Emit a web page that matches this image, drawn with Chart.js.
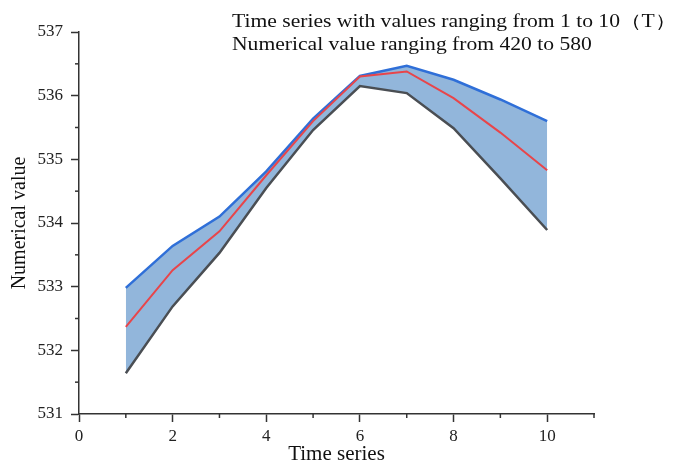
<!DOCTYPE html>
<html>
<head>
<meta charset="utf-8">
<script src="https://cdn.jsdelivr.net/npm/chart.js@4"></script>
<style>
  html, body { margin: 0; padding: 0; background: #fff; }
  #wrap { width: 680px; height: 467px; }
</style>
</head>
<body>
<div id="wrap"><canvas id="grafico" width="680" height="467"></canvas></div>
<script>
// datos
const tiempos = [1, 2, 3, 4, 5, 6, 7, 8, 9, 10];
const superior = [532.98, 533.64, 534.10, 534.81, 535.64, 536.31, 536.47, 536.25, 535.94, 535.60];
const media = [532.37, 533.26, 533.87, 534.75, 535.60, 536.30, 536.38, 535.96, 535.42, 534.83];
const inferior = [531.64, 532.69, 533.53, 534.55, 535.46, 536.15, 536.04, 535.49, 534.70, 533.89];
const titulo = ['Time series with values ranging from 1 to 10（T）', 'Numerical value ranging from 420 to 580'];
const ticksX = [0, 2, 4, 6, 8, 10];
const ticksY = [531, 532, 533, 534, 535, 536, 537];

const fuente = '"Liberation Serif", "Times New Roman", serif';
const colorEje = '#333333';

function puntos(valores) {
    return tiempos.map((t, i) => ({ x: t, y: valores[i] }));
}

// marcas menores y texto del titulo
const extras = {
    id: 'extras',
    afterDraw(chart) {
        const ctx = chart.ctx;
        const sx = chart.scales.x;
        const sy = chart.scales.y;
        const area = chart.chartArea;
        ctx.save();
        ctx.strokeStyle = colorEje;
        ctx.lineWidth = 1.5;
        for (let v = 1; v <= 11; v += 2) {
            const px = sx.getPixelForValue(v);
            ctx.beginPath();
            ctx.moveTo(px, area.bottom);
            ctx.lineTo(px, area.bottom + 4);
            ctx.stroke();
        }
        for (let v = 531.5; v < 537; v += 1) {
            const py = sy.getPixelForValue(v);
            ctx.beginPath();
            ctx.moveTo(area.left, py);
            ctx.lineTo(area.left - 4, py);
            ctx.stroke();
        }
        // el texto original esta algo estirado a lo ancho
        ctx.fillStyle = '#111';
        ctx.font = '18px ' + fuente;
        ctx.textAlign = 'left';
        ctx.textBaseline = 'alphabetic';
        ctx.translate(232, 0);
        ctx.scale(1.2, 1);
        ctx.fillText(titulo[0], 0, 27);
        ctx.fillText(titulo[1], 0, 50);
        ctx.restore();
    }
};

const ctx = document.getElementById('grafico').getContext('2d');
new Chart(ctx, {
    type: 'line',
    data: {
        datasets: [
            {
                label: 'media',
                data: puntos(media),
                borderColor: '#e8454a',
                borderWidth: 2,
                pointRadius: 0,
                tension: 0,
                fill: false
            },
            {
                label: 'superior',
                data: puntos(superior),
                borderColor: '#2f6fd8',
                backgroundColor: 'rgba(146, 182, 219, 1)',
                borderWidth: 2.5,
                pointRadius: 0,
                tension: 0,
                fill: '+1'
            },
            {
                label: 'inferior',
                data: puntos(inferior),
                borderColor: '#4a4e53',
                borderWidth: 2.5,
                pointRadius: 0,
                tension: 0,
                fill: false
            }
        ]
    },
    options: {
        responsive: false,
        animation: false,
        layout: { padding: { left: 0, right: 86, top: 32, bottom: 0 } },
        plugins: {
            legend: { display: false },
            tooltip: { enabled: false },
            filler: { drawTime: 'beforeDatasetsDraw' }
        },
        scales: {
            x: {
                type: 'linear',
                min: 0,
                max: 11,
                afterBuildTicks: (s) => { s.ticks = ticksX.map(v => ({ value: v })); },
                afterFit: (s) => { s.height = 53; },
                border: { color: colorEje, width: 1.5 },
                grid: { drawOnChartArea: false, tickLength: 8, tickColor: colorEje, tickWidth: 1.5 },
                ticks: { color: '#222', padding: 4, font: { family: fuente, size: 17 } },
                title: { display: true, text: 'Time series', color: '#111', padding: { top: 2, bottom: 0 }, font: { family: fuente, size: 21 } }
            },
            y: {
                min: 531,
                max: 537,
                afterBuildTicks: (s) => { s.ticks = ticksY.map(v => ({ value: v })); },
                afterFit: (s) => { s.width = 79; },
                border: { color: colorEje, width: 1.5 },
                grid: { drawOnChartArea: false, tickLength: 8, tickColor: colorEje, tickWidth: 1.5 },
                ticks: { color: '#222', padding: 8, font: { family: fuente, size: 17 } },
                title: { display: true, text: 'Numerical value', color: '#111', padding: { top: 8, bottom: 0 }, font: { family: fuente, size: 20 } }
            }
        }
    },
    plugins: [extras]
});
</script>
</body>
</html>
